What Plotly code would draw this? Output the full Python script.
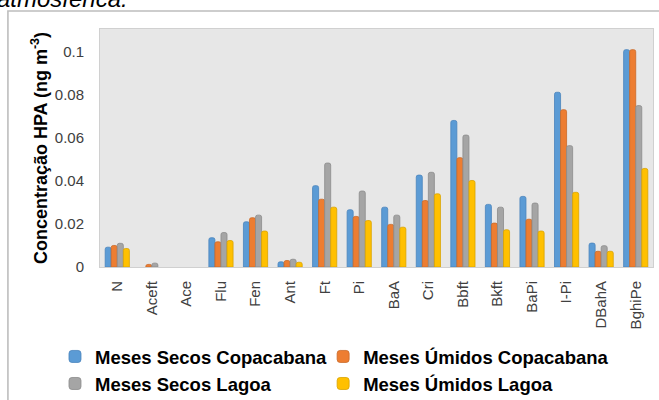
import plotly.graph_objects as go

categories = ["N", "Aceft", "Ace", "Flu", "Fen", "Ant", "Ft", "Pi", "BaA", "Cri",
              "Bbft", "Bkft", "BaPi", "I-Pi", "DBahA", "BghiPe"]
secos_copacabana = [0.0092, None, None, 0.0136, 0.0210, 0.0024, 0.0378, 0.0266, 0.0278, 0.0427,
                    0.0681, 0.0291, 0.0328, 0.0812, 0.0111, 0.1010]
umidos_copacabana = [0.0100, 0.0012, None, 0.0117, 0.0229, 0.0030, 0.0315, 0.0235, 0.0198, 0.0309,
                     0.0508, 0.0204, 0.0222, 0.0731, 0.0073, 0.1010]
secos_lagoa = [0.0110, 0.0018, None, 0.0160, 0.0241, 0.0036, 0.0483, 0.0353, 0.0241, 0.0440,
               0.0613, 0.0278, 0.0297, 0.0564, 0.0099, 0.0750]
umidos_lagoa = [0.0086, None, None, 0.0123, 0.0167, 0.0022, 0.0278, 0.0216, 0.0185, 0.0340,
                0.0402, 0.0173, 0.0167, 0.0347, 0.0073, 0.0458]
series_names = ["Meses Secos Copacabana", "Meses Úmidos Copacabana",
                "Meses Secos Lagoa", "Meses Úmidos Lagoa"]
y_tickvals = [0, 0.02, 0.04, 0.06, 0.08, 0.1]
y_ticktext = ["0", "0.02", "0.04", "0.06", "0.08", "0.1"]

colors = ["#5B9BD5", "#ED7D31", "#A5A5A5", "#FFC000"]
edges = ["#4A84BC", "#C96A28", "#8C8C8C", "#D9A300"]
legend_ids = ["legend", "legend2", "legend", "legend2"]
all_series = [secos_copacabana, umidos_copacabana, secos_lagoa, umidos_lagoa]

fig = go.Figure()
for name, vals, c, e, lg in zip(series_names, all_series, colors, edges, legend_ids):
    fig.add_trace(go.Bar(
        x=categories, y=vals, name=name, legend=lg,
        marker=dict(color=c, line=dict(color=e, width=0.8), cornerradius=2),
    ))

FONT = "Liberation Sans"
legend_font = dict(family=FONT, size=18.5, color="#000000", weight="bold")
fig.update_layout(
    width=659, height=400,
    margin=dict(l=100, r=6.3, t=29, b=133.3, autoexpand=False),
    paper_bgcolor="white",
    plot_bgcolor="#E7E7E7",
    barmode="group",
    bargap=0.3,
    bargroupgap=0.0,
    font=dict(family=FONT, color="#404040"),
    showlegend=True,
    legend=dict(
        orientation="v",
        x=-0.0814, xanchor="left",
        y=-0.298, yanchor="top",
        font=legend_font, itemwidth=30, tracegroupgap=0,
        bgcolor="rgba(0,0,0,0)", traceorder="normal",
    ),
    legend2=dict(
        orientation="v",
        x=0.4035, xanchor="left",
        y=-0.298, yanchor="top",
        font=legend_font, itemwidth=30, tracegroupgap=0,
        bgcolor="rgba(0,0,0,0)", traceorder="normal",
    ),
    xaxis=dict(
        tickangle=-90,
        tickfont=dict(family=FONT, size=15, color="#404040"),
        showline=True, linecolor="#D0D0D0", linewidth=1,
        ticks="", showgrid=False, mirror=True,
        ticklabelstandoff=7, automargin=False,
    ),
    yaxis=dict(
        range=[0, 0.1106],
        tickvals=y_tickvals, ticktext=y_ticktext,
        tickfont=dict(family=FONT, size=15, color="#404040"),
        showgrid=False, zeroline=False,
        showline=True, linecolor="#D0D0D0", linewidth=1, mirror=True,
        ticklabelstandoff=12, automargin=False,
        title=dict(text="Concentração HPA (ng m<sup>-3</sup>)",
                   font=dict(family=FONT, size=18, color="#000000", weight="bold"),
                   standoff=2),
    ),
    shapes=[dict(
        type="rect", xref="paper", yref="paper",
        x0=-0.1665, x1=1.03, y0=-0.7, y1=1.0757,
        line=dict(color="#BDBDBD", width=1.6), fillcolor="rgba(0,0,0,0)", layer="below",
    )],
    annotations=[dict(
        text="<i>atmosférica.</i>", xref="paper", yref="paper",
        x=-0.19, xanchor="left", y=1.128, yanchor="middle",
        showarrow=False, font=dict(family=FONT, size=24, color="#000000"),
    )],
)

fig.write_html("out.html")
